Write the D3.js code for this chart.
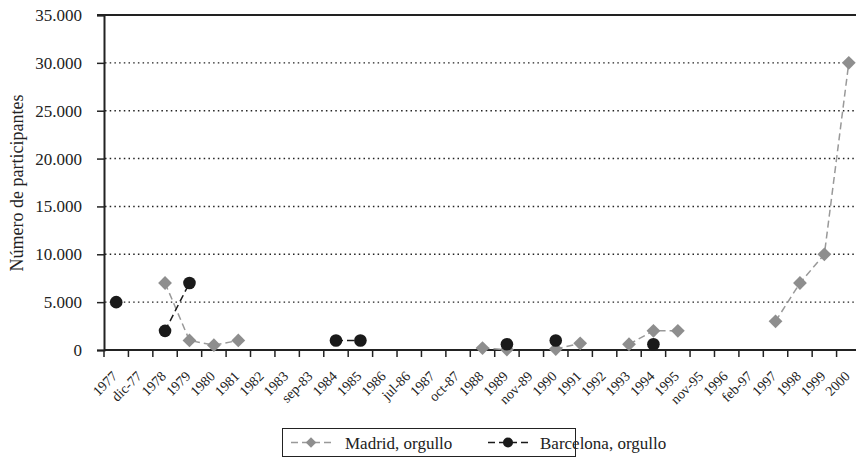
<!DOCTYPE html>
<html>
<head>
<meta charset="utf-8">
<script src="https://cdn.jsdelivr.net/npm/d3@7"></script>
<style>
  body { margin: 0; background: #fff; }
  svg { display: block; }
  svg text { font-family: "Liberation Serif", "DejaVu Serif", serif; }
</style>
</head>
<body>
<div id="chart"></div>
<script>
var categories = ["1977", "dic-77", "1978", "1979", "1980", "1981", "1982", "1983", "sep-83",
  "1984", "1985", "1986", "jul-86", "1987", "oct-87", "1988", "1989", "nov-89", "1990",
  "1991", "1992", "1993", "1994", "1995", "nov-95", "1996", "feb-97", "1997", "1998",
  "1999", "2000"];

var madrid = [null, null, 7000, 1000, 500, 1000, null, null, null, null, null, null, null,
  null, null, 200, 50, null, 100, 700, null, 600, 2000, 2000, null, null, null, 3000,
  7000, 10000, 30000];

var barcelona = [5000, null, 2000, 7000, null, null, null, null, null, 1000, 1000, null,
  null, null, null, null, 600, null, 1000, null, null, null, 600, null, null, null, null,
  null, null, null, null];

var yTicks = [0, 5000, 10000, 15000, 20000, 25000, 30000, 35000];
var yTickLabels = ["0", "5.000", "10.000", "15.000", "20.000", "25.000", "30.000", "35.000"];

var serif = "'Liberation Serif', 'DejaVu Serif', serif";

function init() {
    var w = 856;
    var h = 459;

    var svg = d3.select("#chart")
                .append("svg")
                .attr("width", w)
                .attr("height", h)
                .attr("font-family", serif);

    var x = d3.scaleBand()
              .domain(categories)
              .range([104, 861]);

    var y = d3.scaleLinear()
              .domain([0, 35000])
              .range([350, 15]);

    // dotted gridlines
    svg.selectAll("line.grid")
       .data(yTicks.filter(function(d) { return d > 0 && d < 35000; }))
       .enter()
       .append("line")
       .attr("class", "grid")
       .attr("x1", 105)
       .attr("x2", w)
       .attr("y1", function(d) { return y(d); })
       .attr("y2", function(d) { return y(d); })
       .attr("stroke", "#222")
       .attr("stroke-width", 1.4)
       .attr("stroke-dasharray", "1.5,3.2");

    // top border
    svg.append("line")
       .attr("x1", 97).attr("x2", w)
       .attr("y1", y(35000)).attr("y2", y(35000))
       .attr("stroke", "#222")
       .attr("stroke-width", 2);

    // y axis
    var yAxis = d3.axisLeft(y)
                  .tickValues(yTicks)
                  .tickSize(7)
                  .tickPadding(15)
                  .tickFormat(function(d, i) { return yTickLabels[i]; });

    var gy = svg.append("g")
                .attr("transform", "translate(104,0)")
                .call(yAxis)
                .attr("font-family", serif);
    gy.select(".domain").attr("stroke", "#222").attr("stroke-width", 2);
    gy.selectAll(".tick line").attr("stroke", "#222").attr("stroke-width", 1.5);
    gy.selectAll(".tick text")
      .attr("font-family", serif)
      .attr("font-size", 17)
      .attr("fill", "#222");

    // x axis
    svg.append("line")
       .attr("x1", 104).attr("x2", w)
       .attr("y1", 350).attr("y2", 350)
       .attr("stroke", "#222")
       .attr("stroke-width", 2);

    var bounds = categories.map(function(c) { return x(c); }).concat([x.range()[1]]);
    svg.selectAll("line.xtick")
       .data(bounds)
       .enter()
       .append("line")
       .attr("class", "xtick")
       .attr("x1", function(d) { return d; })
       .attr("x2", function(d) { return d; })
       .attr("y1", 350)
       .attr("y2", 357)
       .attr("stroke", "#222")
       .attr("stroke-width", 1.5);

    svg.selectAll("text.xlab")
       .data(categories)
       .enter()
       .append("text")
       .attr("class", "xlab")
       .attr("text-anchor", "end")
       .attr("font-family", serif)
       .attr("font-size", 14)
       .attr("fill", "#222")
       .attr("transform", function(d) {
           return "translate(" + (x(d) + x.bandwidth() / 2 + 2) + ",377) rotate(-45)";
       })
       .text(function(d) { return d; });

    // y title
    svg.append("text")
       .attr("transform", "translate(23,183) rotate(-90)")
       .attr("text-anchor", "middle")
       .attr("font-family", serif)
       .attr("font-size", 18)
       .attr("fill", "#222")
       .text("Número de participantes");

    var cx = function(d, i) { return x(categories[i]) + x.bandwidth() / 2; };

    var line = d3.line()
                 .defined(function(d) { return d !== null; })
                 .x(cx)
                 .y(function(d) { return y(d); });

    // Madrid
    svg.append("path")
       .datum(madrid)
       .attr("d", line)
       .attr("fill", "none")
       .attr("stroke", "#999")
       .attr("stroke-width", 1.5)
       .attr("stroke-dasharray", "7,4");

    var diamond = d3.symbol().type(d3.symbolSquare).size(95);
    madrid.forEach(function(d, i) {
        if (d === null) return;
        svg.append("path")
           .attr("d", diamond)
           .attr("fill", "#8e8e8e")
           .attr("transform", "translate(" + cx(d, i) + "," + y(d) + ") rotate(45)");
    });

    // Barcelona
    svg.append("path")
       .datum(barcelona)
       .attr("d", line)
       .attr("fill", "none")
       .attr("stroke", "#1a1a1a")
       .attr("stroke-width", 1.5)
       .attr("stroke-dasharray", "7,4");

    barcelona.forEach(function(d, i) {
        if (d === null) return;
        svg.append("circle")
           .attr("cx", cx(d, i))
           .attr("cy", y(d))
           .attr("r", 6.3)
           .attr("fill", "#1a1a1a");
    });

    // legend
    var lg = svg.append("g");
    lg.append("rect")
      .attr("x", 282.5).attr("y", 428.5)
      .attr("width", 293).attr("height", 28)
      .attr("fill", "#fff")
      .attr("stroke", "#222")
      .attr("stroke-width", 1);

    lg.append("line")
      .attr("x1", 291).attr("x2", 331).attr("y1", 442.5).attr("y2", 442.5)
      .attr("stroke", "#999").attr("stroke-width", 1.5).attr("stroke-dasharray", "7,4");
    lg.append("path")
      .attr("d", d3.symbol().type(d3.symbolSquare).size(55))
      .attr("fill", "#8e8e8e")
      .attr("transform", "translate(311,442.5) rotate(45)");
    lg.append("text")
      .attr("x", 345).attr("y", 448.5)
      .attr("font-family", serif)
      .attr("font-size", 17).attr("fill", "#222")
      .text("Madrid, orgullo");

    lg.append("line")
      .attr("x1", 488).attr("x2", 528).attr("y1", 442.5).attr("y2", 442.5)
      .attr("stroke", "#1a1a1a").attr("stroke-width", 1.5).attr("stroke-dasharray", "7,4");
    lg.append("circle")
      .attr("cx", 508).attr("cy", 442.5).attr("r", 5)
      .attr("fill", "#1a1a1a");
    lg.append("text")
      .attr("x", 540).attr("y", 448.5)
      .attr("font-family", serif)
      .attr("font-size", 17).attr("fill", "#222")
      .text("Barcelona, orgullo");
}
window.onload = init;
</script>
</body>
</html>
